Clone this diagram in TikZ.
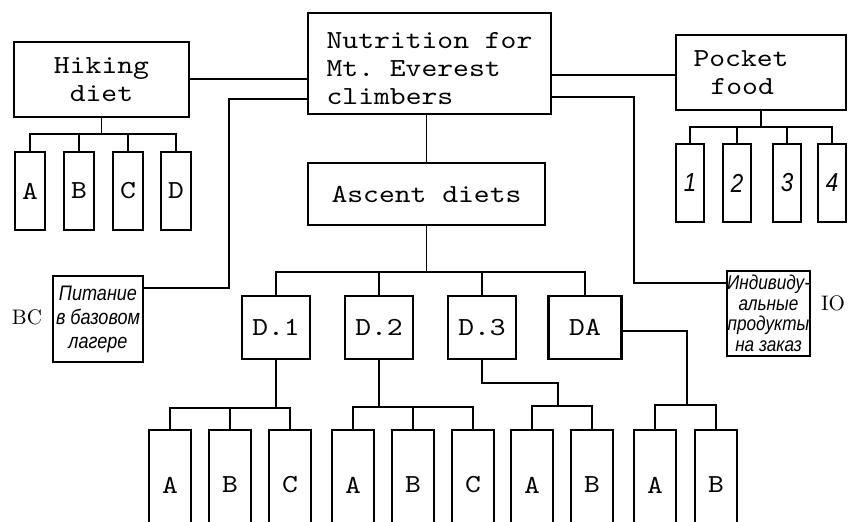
\documentclass[tikz,border=0pt]{standalone}
\usepackage{fontspec}
\setmonofont[FakeStretch=1.16]{lmmono10-regular.otf}
\newfontfamily\rufont[FakeStretch=0.86]{Liberation Sans}
\begin{document}
\begin{tikzpicture}[x=0.5pt,y=-0.5pt,
  box/.style={draw,line width=1.3pt,inner sep=0pt,font=\fontsize{13}{14}\selectfont\ttfamily},
  leaf/.style={box,minimum width=15pt,minimum height=39pt},
  numleaf/.style={box,minimum width=14pt,minimum height=39pt,font=\fontsize{13}{15}\selectfont\rufont\itshape},
  dbox/.style={box,minimum width=34pt,minimum height=31.5pt},
  tall/.style={box,minimum width=21pt,minimum height=55pt},
  rubox/.style={box,align=center},
  tag/.style={font=\fontsize{10.5}{12}\selectfont},
  link/.style={line width=0.8pt}]
\clip (0,0) rectangle (854,522);
% main boxes
\node[box,align=left,minimum width=121.5pt,minimum height=50.5pt] (nut) at (429.5,63.5) {\rule{0pt}{13pt}Nutrition for\\Mt. Everest\\climbers};
\node[box,align=center,minimum width=87.5pt,minimum height=37.5pt] (hike) at (101.5,79.5) {Hiking\\diet};
\node[box,align=left,minimum width=85pt,minimum height=37.5pt] (pocket) at (761,72.5) {Pocket\hspace*{20pt}\\\hspace*{8.5pt}food};
\node[box,minimum width=118.5pt,minimum height=31pt] (asc) at (426.5,194) {Ascent diets};
\node[rubox,minimum width=45pt,minimum height=43pt,font=\fontsize{10.5}{12}\selectfont\rufont\itshape] (bc) at (98,319) {Питание\\в базовом\\лагере};
\node[rubox,minimum width=41.5pt,minimum height=42.5pt,font=\fontsize{10}{10.3}\selectfont\rufont\itshape] (io) at (768.5,313.5) {Индивиду-\\альные\\продукты\\на заказ};
\node[tag] (bclabel) at (27,317) {BC};
\node[tag] (iolabel) at (833,303) {IO};
% hiking diet
\node[leaf] (h1) at (30,191) {A};
\node[leaf] (h2) at (79,191) {B};
\node[leaf] (h3) at (128,191) {C};
\node[leaf] (h4) at (176,191) {D};
% pocket food
\node[numleaf] (p1) at (690,183) {1};
\node[numleaf] (p2) at (737,183) {2};
\node[numleaf] (p3) at (787,183) {3};
\node[numleaf] (p4) at (832,183) {4};
% ascent diets
\node[dbox] (d1) at (276,327.5) {D.1};
\node[dbox] (d2) at (379,327.5) {D.2};
\node[dbox] (d3) at (482,327.5) {D.3};
\node[dbox,minimum width=36.5pt] (da) at (585,327.5) {DA};
\node[tall] (d1a) at (170,485) {A};
\node[tall] (d1b) at (230,485) {B};
\node[tall] (d1c) at (290,485) {C};
\node[tall] (d2a) at (353,485) {A};
\node[tall] (d2b) at (413,485) {B};
\node[tall] (d2c) at (473,485) {C};
\node[tall] (d3a) at (532,485) {A};
\node[tall] (d3b) at (592,485) {B};
\node[tall] (daa) at (655,485) {A};
\node[tall] (dab) at (716,485) {B};
% connectors
\draw[link] (hike.east |- 0,79) -- (nut.west |- 0,79);
\draw[link] (nut.west |- 0,99) -| (229,288) -- (bc.east |- 0,288);
\draw[link] (nut.east |- 0,75) -- (pocket.west |- 0,75);
\draw[link] (nut.east |- 0,97) -| (634,283) -- (io.west |- 0,283);
\draw[link] (nut.south -| asc.north) -- (asc.north);
\draw[link] (hike.south) -- (hike.south |- 0,134);
\draw[link] (h1.north) |- (h4.north |- 0,134) -- (h4.north);
\draw[link] (h2.north) -- (h2.north |- 0,134);
\draw[link] (h3.north) -- (h3.north |- 0,134);
\draw[link] (pocket.south) -- (pocket.south |- 0,127);
\draw[link] (p1.north) |- (p4.north |- 0,127) -- (p4.north);
\draw[link] (p2.north) -- (p2.north |- 0,127);
\draw[link] (p3.north) -- (p3.north |- 0,127);
\draw[link] (asc.south) -- (asc.south |- 0,272);
\draw[link] (d1.north) |- (da.north |- 0,272) -- (da.north);
\draw[link] (d2.north) -- (d2.north |- 0,272);
\draw[link] (d3.north) -- (d3.north |- 0,272);
\draw[link] (d1.south) -- (d1.south |- 0,408);
\draw[link] (d1a.north) |- (d1c.north |- 0,408) -- (d1c.north);
\draw[link] (d1b.north) -- (d1b.north |- 0,408);
\draw[link] (d2.south) -- (d2.south |- 0,407);
\draw[link] (d2a.north) |- (d2c.north |- 0,407) -- (d2c.north);
\draw[link] (d2b.north) -- (d2b.north |- 0,407);
\draw[link] (d3.south) |- (558,383) -- (558,406);
\draw[link] (d3a.north) |- (d3b.north |- 0,406) -- (d3b.north);
\draw[link] (da.east |- 0,331) -| (687,405);
\draw[link] (daa.north) |- (dab.north |- 0,405) -- (dab.north);
\end{tikzpicture}
\end{document}
